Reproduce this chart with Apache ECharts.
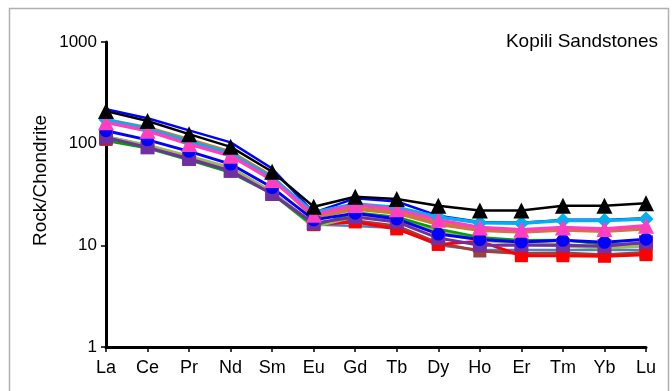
<!DOCTYPE html>
<html><head><meta charset="utf-8">
<script src="https://cdn.jsdelivr.net/npm/echarts@6/dist/echarts.min.js"></script>
<style>html,body{margin:0;padding:0;background:#fff}#c{width:672px;height:391px}</style>
</head><body><div id="c"></div>
<script>
const categories = ['La','Ce','Pr','Nd','Sm','Eu','Gd','Tb','Dy','Ho','Er','Tm','Yb','Lu'];
const yTicks = [1, 10, 100, 1000];
const steelBlue = [118, 96, 74, 56, 33, 16, 15.5, 14.8, 10, 9, 9, 9, 9, 9];
const brownSq   = [110, 93, 70, 54, 33, 16, 17.5, 15.5, 10.5, 8.8, 8.3, 8.4, 8.1, 8.5];
const redSq     = [112, 94, 72, 55, 33, 16, 17, 14.5, 10.2, 11, 7.9, 7.9, 7.8, 8.1];
const oliveLn   = [115, 95, 74, 57, 33, 15.5, 19.5, 18, 13.5, 11.5, 10.5, 10, 9.5, 10];
const greenLn   = [107, 90, 69, 52, 32, 15.5, 21, 19, 14.5, 12, 11.2, 11.3, 10.2, 10.5];
const purpleSq  = [115, 92, 71, 54, 32, 16.5, 19, 17, 11.8, 10, 10, 10, 9.8, 10.7];
const peruLn    = [170, 142, 108, 82, 47, 19, 23, 21, 16.3, 14.2, 13.7, 14.3, 13.9, 14.7];
const blueCirc  = [134, 109, 84, 63, 37, 17.8, 20.7, 18.2, 12.9, 11.4, 10.8, 11.2, 10.7, 11.5];
const blueLn    = [218, 178, 135, 103, 57, 21, 29, 27, 19.5, 17, 16.7, 17.8, 17.8, 18.5];
const cyanDia   = [172, 140, 105, 80, 46, 21, 25.5, 23.6, 19, 16.7, 16.5, 17.5, 17.5, 18.2];
const pinkTri   = [162, 134, 99, 76, 44, 20, 25, 22.6, 17.8, 15, 14.2, 15, 14.5, 15.6];
const blackTri  = [209, 167, 124, 93, 53, 24, 30, 28.5, 24.5, 22, 22, 24.5, 24.5, 26];

function s(name, data, color, symbol, size, width) {
  return {
    name, type: 'line', data, symbol: symbol || 'none', symbolSize: size || 0,
    lineStyle: { color, width: width || 2 }, itemStyle: { color },
    showSymbol: !!symbol, animation: false, emphasis: { disabled: true }
  };
}
const chart = echarts.init(document.getElementById('c'), null, { renderer: 'canvas' });
const font = '"Liberation Sans", Arial, sans-serif';
chart.setOption({
  animation: false,
  grid: { left: 106, right: 26, top: 42, bottom: 44 },
  graphic: [
    { type: 'rect', shape: { x: 9.5, y: 8.5, width: 659, height: 400 }, style: { fill: 'none', stroke: '#b0b0b0', lineWidth: 1.5 }, silent: true },
    { type: 'text', right: 14, top: 32, style: { text: 'Kopili Sandstones', font: '19px ' + font, fill: '#000' } },
    { type: 'text', x: 31, y: 246, rotation: Math.PI / 2, style: { text: 'Rock/Chondrite', font: '19px ' + font, fill: '#000' } }
  ],
  xAxis: {
    type: 'category', data: categories, boundaryGap: false,
    axisLine: { lineStyle: { color: '#000', width: 3 } },
    axisTick: { show: true, alignWithLabel: true, length: 5, lineStyle: { color: '#000', width: 1.5 } },
    axisLabel: { color: '#000', fontSize: 18, fontFamily: font, margin: 12 },
    splitLine: { show: false }
  },
  yAxis: {
    type: 'log', logBase: 10, min: 1, max: 1000,
    axisLine: { show: true, lineStyle: { color: '#000', width: 3 } },
    axisTick: { show: true, length: 5, lineStyle: { color: '#000', width: 1.5 } },
    minorTick: { show: false },
    axisLabel: { color: '#000', fontSize: 17, fontFamily: font, margin: 9,
      formatter: v => yTicks.includes(Math.round(v)) ? String(Math.round(v)) : '' },
    splitLine: { show: false }
  },
  series: [
    s('steel', steelBlue, '#4f81bd', null, 0, 2.5),
    s('brown', brownSq, '#a0403a', 'rect', 13, 3),
    s('red', redSq, '#ff0000', 'rect', 13, 3),
    s('olive', oliveLn, '#9bbb59', null, 0, 4.5),
    s('green', greenLn, '#00a000', null, 0, 2.5),
    s('purple', purpleSq, '#7030a0', 'rect', 14, 3),
    s('peru', peruLn, '#cc7a3a', null, 0, 4.5),
    s('bluecirc', blueCirc, '#0000ff', 'circle', 13, 3),
    s('blueline', blueLn, '#0000ff', null, 0, 2.5),
    s('cyan', cyanDia, '#00b0f0', 'diamond', 15, 3.5),
    s('pink', pinkTri, '#ff3fbf', 'triangle', 16, 3.5),
    s('black', blackTri, '#000000', 'triangle', 16, 2.5)
  ]
});
</script></body></html>
